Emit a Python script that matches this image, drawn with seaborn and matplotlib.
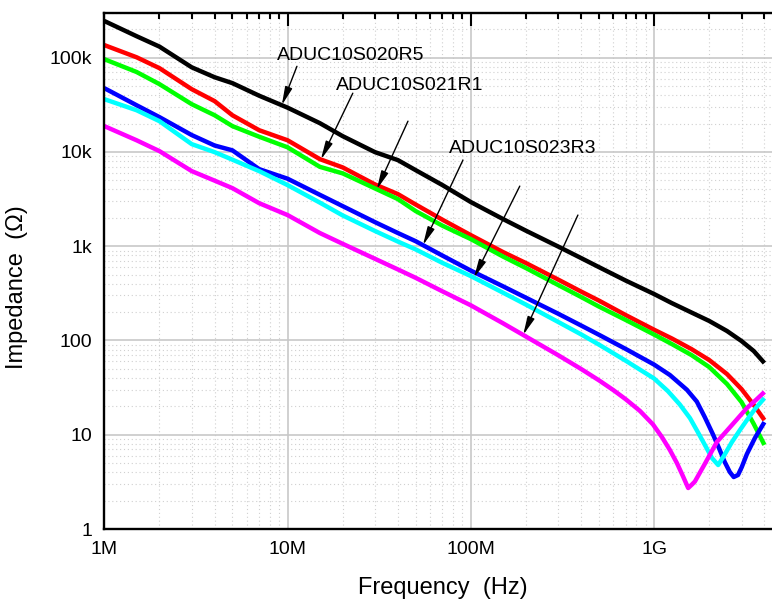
import matplotlib
matplotlib.use("Agg")
import matplotlib.pyplot as plt
import numpy as np
import pandas as pd
import seaborn as sns
from matplotlib.ticker import FixedLocator, FixedFormatter, LogLocator, NullFormatter

# ---- impedance sweeps: frequency (Hz) and |Z| (ohm) ----
low_f = [1e6, 1.5e6, 2e6, 3e6, 4e6, 5e6, 7e6, 10e6, 15e6, 20e6, 30e6, 40e6, 50e6,
         70e6, 100e6, 150e6, 200e6, 300e6, 400e6, 500e6, 700e6]

black_f = low_f + [1e9, 1.25e9, 1.6e9, 2e9, 2.5e9, 3e9, 3.5e9, 4e9]
black_z = [245e3, 169e3, 131e3, 79e3, 62e3, 53.7e3, 39.5e3, 29.5e3, 20.2e3, 14.7e3,
           9.95e3, 8.19e3, 6.41e3, 4.45e3, 2.94e3, 1.94e3, 1.46e3, 991, 748, 600,
           432, 311, 249, 198, 161, 126, 98.6, 77.2, 57.6]

red_f = low_f + [1e9, 1.25e9, 1.6e9, 2e9, 2.5e9, 3e9, 3.5e9, 4e9]
red_z = [136e3, 101e3, 77.4e3, 46.3e3, 34.6e3, 24.5e3, 17.0e3, 13.3e3, 8.39e3, 6.85e3,
         4.52e3, 3.57e3, 2.77e3, 1.91e3, 1.31e3, 866, 662, 442, 330, 265, 186,
         130, 105, 81, 62, 44, 30.5, 20.7, 14.3]

green_f = low_f + [1e9, 1.25e9, 1.6e9, 2e9, 2.5e9, 3e9, 3.5e9, 4e9]
green_z = [96.4e3, 70.5e3, 52.4e3, 32.1e3, 24.5e3, 18.8e3, 14.5e3, 11.2e3, 6.95e3,
           5.92e3, 4.10e3, 3.16e3, 2.36e3, 1.65e3, 1.19e3, 776, 586, 387, 289, 229,
           165, 115.5, 91.6, 70, 52.2, 34.5, 22.2, 13, 7.8]

blue_f = low_f + [1e9, 1.22e9, 1.51e9, 1.71e9, 1.89e9, 2.09e9, 2.26e9, 2.43e9,
                  2.59e9, 2.72e9, 2.87e9, 3.01e9, 3.21e9, 3.55e9, 4e9]
blue_z = [47.5e3, 31.3e3, 23.4e3, 15.1e3, 11.7e3, 10.4e3, 6.57e3, 5.2e3, 3.51e3,
          2.66e3, 1.80e3, 1.38e3, 1.13e3, 795, 551, 375, 284, 192, 144, 115, 81.3,
          55.5, 43.0, 30.0, 22.5, 15.4, 10.2, 7.22, 5.13, 4.02, 3.56, 3.74, 4.54,
          6.24, 9.23, 13.6]

cyan_f = low_f + [1e9, 1.19e9, 1.38e9, 1.57e9, 1.755e9, 1.92e9, 2.07e9, 2.237e9,
                  2.4e9, 2.66e9, 2.94e9, 3.21e9, 3.55e9, 4e9]
cyan_z = [36.3e3, 27.7e3, 21.2e3, 12.1e3, 9.95e3, 8.28e3, 6.26e3, 4.45e3, 2.9e3,
          2.12e3, 1.45e3, 1.12e3, 925, 665, 482, 321, 240, 157, 116, 90.4, 61,
          39.5, 29.0, 21.0, 15.0, 10.2, 7.41, 5.66, 4.77, 5.94, 8.37, 11.2, 14.3,
          18.7, 24.5]

magenta_f = low_f[:-2] + [500e6, 600e6, 700e6, 837e6, 985e6, 1.103e9, 1.22e9, 1.332e9,
                          1.436e9, 1.535e9, 1.608e9, 1.67e9, 1.89e9, 2.2e9, 2.69e9,
                          3.21e9, 3.59e9, 4e9]
magenta_z = [18.8e3, 13.3e3, 10.2e3, 6.26e3, 4.96e3, 4.13e3, 2.86e3, 2.14e3, 1.38e3,
             1.06e3, 735, 567, 462, 332, 236, 152, 110, 69.7, 49.8, 37.8, 29.7, 23.8,
             17.9, 12.9, 9.46, 6.88, 5.01, 3.65, 2.72, 2.96, 3.19, 4.89, 8.37, 13.0,
             19.2, 23.3, 28.4]

series_names = ["black", "red", "green", "blue", "cyan", "magenta"]
series_data = {
    "black": (black_f, black_z),
    "red": (red_f, red_z),
    "green": (green_f, green_z),
    "blue": (blue_f, blue_z),
    "cyan": (cyan_f, cyan_z),
    "magenta": (magenta_f, magenta_z),
}
palette = {"black": "#000000", "red": "#ff0000", "green": "#00ff00",
           "blue": "#0000ff", "cyan": "#00ffff", "magenta": "#ff00ff"}

x_ticks = [1e6, 1e7, 1e8, 1e9]
x_labels = ["1M", "10M", "100M", "1G"]
y_ticks = [1, 10, 100, 1e3, 1e4, 1e5]
y_labels = ["1", "10", "100", "1k", "10k", "100k"]

# part-number callouts: (text, x, y) and arrows: (series, tip frequency, tail x, tail y)
callout_texts = [("ADUC10S020R5", 8.75e6, 106e3),
                 ("ADUC10S021R1", 18.4e6, 51e3),
                 ("ADUC10S023R3", 75.9e6, 11e3)]
callout_arrows = [("black", 9.3e6, 11.25e6, 81e3),
                  ("red", 15.2e6, 22.7e6, 42e3),
                  ("green", 30.7e6, 45.4e6, 21.2e3),
                  ("blue", 54.8e6, 90.6e6, 8.2e3),
                  ("cyan", 104e6, 185e6, 4.34e3),
                  ("magenta", 193e6, 384e6, 2.14e3)]

rows = []
for name in series_names:
    fs, zs = series_data[name]
    for f, z in zip(fs, zs):
        rows.append({"freq": f, "imp": z, "part": name})
df = pd.DataFrame(rows)

sns.set_style("white")
plt.rcParams["font.family"] = ["Liberation Sans", "DejaVu Sans"]
plt.rcParams["text.color"] = "black"
plt.rcParams["axes.labelcolor"] = "black"
plt.rcParams["xtick.color"] = "black"
plt.rcParams["ytick.color"] = "black"

fig = plt.figure(figsize=(7.72, 6.03), dpi=100)
ax = fig.add_axes([104.3 / 772, 1 - 529 / 603, 1 - 104.3 / 772, (529 - 12.7) / 603])

sns.lineplot(data=df, x="freq", y="imp", hue="part", hue_order=series_names,
             palette=palette, estimator=None, linewidth=3.2, legend=False,
             ax=ax, solid_joinstyle="round", solid_capstyle="butt")

ax.set_xscale("log")
ax.set_yscale("log")
ax.set_xlim(1e6, 4.4e9)
ax.set_ylim(1, 3e5)

ax.xaxis.set_major_locator(FixedLocator(x_ticks))
ax.xaxis.set_major_formatter(FixedFormatter(x_labels))
ax.yaxis.set_major_locator(FixedLocator(y_ticks))
ax.yaxis.set_major_formatter(FixedFormatter(y_labels))
ax.xaxis.set_minor_locator(LogLocator(base=10, subs=np.arange(2, 10), numticks=20))
ax.yaxis.set_minor_locator(LogLocator(base=10, subs=np.arange(2, 10), numticks=20))
ax.xaxis.set_minor_formatter(NullFormatter())
ax.yaxis.set_minor_formatter(NullFormatter())

ax.set_axisbelow(True)
ax.grid(which="major", color="#c8c8c8", linewidth=1.2, linestyle="-")
ax.grid(which="minor", color="#d0d0d0", linewidth=0.8, linestyle=(0, (1, 2.5)))

ax.tick_params(which="both", direction="in", top=True, right=False,
               width=1.5, color="black")
ax.tick_params(which="major", length=9, labelsize=14, pad=8.5, labelcolor="black")
ax.tick_params(which="minor", length=4.5)
for side in ["left", "bottom", "top"]:
    ax.spines[side].set_linewidth(1.7)
    ax.spines[side].set_color("black")
ax.spines["right"].set_visible(False)

ax.set_xlabel("Frequency  (Hz)", fontsize=17, color="black")
ax.set_ylabel("Impedance  (\u03a9)", fontsize=17, color="black")
ax.xaxis.set_label_coords(0.507, -0.093)
ax.yaxis.set_label_coords(-0.114, 0.468)


def on_curve(name, f):
    fs, zs = series_data[name]
    return 10 ** np.interp(np.log10(f), np.log10(fs), np.log10(zs))


for name, tip_f, tail_f, tail_z in callout_arrows:
    ax.annotate("", xy=(tip_f, on_curve(name, tip_f)), xytext=(tail_f, tail_z),
                arrowprops=dict(arrowstyle="-|>,head_length=0.65,head_width=0.13",
                                mutation_scale=17, color="black", lw=1.0,
                                shrinkA=0, shrinkB=0))

for text, tx, ty in callout_texts:
    ax.text(tx, ty, text, fontsize=14, ha="left", va="center", color="black")

fig.savefig("out.png", dpi=100)
